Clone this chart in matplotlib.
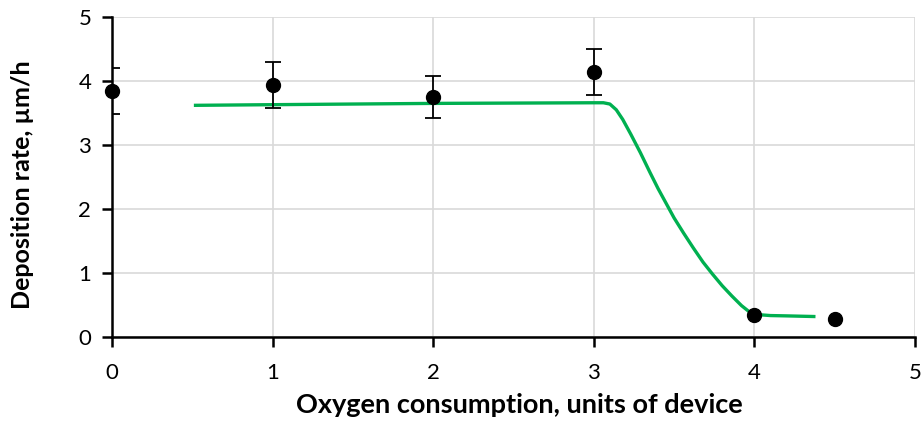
import matplotlib
matplotlib.use('Agg')
import matplotlib.pyplot as plt

# measured points
oxygen = [0, 1, 2, 3, 4, 4.5]
rate = [3.84, 3.94, 3.75, 4.14, 0.34, 0.28]
rateErr = [0.36, 0.36, 0.33, 0.36, 0, 0]

# trend line
trendX = [0.52, 1.0, 2.0, 3.0, 3.06, 3.10, 3.14, 3.18, 3.23, 3.29, 3.35, 3.40,
          3.45, 3.50, 3.56, 3.62, 3.68, 3.74, 3.80, 3.86, 3.92, 3.97, 4.02,
          4.10, 4.2, 4.37]
trendY = [3.62, 3.63, 3.65, 3.66, 3.66, 3.64, 3.55, 3.40, 3.17, 2.88, 2.57, 2.32,
          2.09, 1.86, 1.62, 1.39, 1.17, 0.98, 0.80, 0.64, 0.49, 0.39, 0.35,
          0.335, 0.33, 0.32]

xTicks = [0, 1, 2, 3, 4, 5]
yTicks = [0, 1, 2, 3, 4, 5]

def main():
    plt.rcParams['font.family'] = ['Lato', 'DejaVu Sans']
    fig = plt.figure(figsize=(9.22, 4.45), dpi=100)
    ax = fig.add_axes([0.1215, 0.2427, 0.8709, 0.7191])

    ax.plot(trendX, trendY, color='#00B050', lw=2.4, zorder=3,
            solid_joinstyle='round')

    errX = [x for x, e in zip(oxygen, rateErr) if e > 0]
    errY = [y for y, e in zip(rate, rateErr) if e > 0]
    errV = [e for e in rateErr if e > 0]
    ax.errorbar(errX, errY, yerr=errV, fmt='none', ecolor='black', elinewidth=1.3,
                capsize=6, capthick=1.3, zorder=4)
    ax.plot(oxygen, rate, 'o', color='black', ms=10, zorder=5, clip_on=False)

    ax.set_xlim(0, 5)
    ax.set_ylim(0, 5)
    ax.set_xticks(xTicks)
    ax.set_yticks(yTicks)
    ax.grid(True, color='#d9d9d9', lw=1.2)
    ax.set_axisbelow(True)
    for s in ['top', 'right']:
        ax.spines[s].set_visible(False)
    for s in ['left', 'bottom']:
        ax.spines[s].set_linewidth(1.8)
        ax.spines[s].set_zorder(6)
    ax.tick_params(direction='out', length=7, width=1.8, labelsize=16, pad=8)
    ax.tick_params(axis='x', pad=12)

    fig.text(0.563, 0.09, 'Oxygen consumption, units of device', ha='center',
             va='center', fontsize=19.5, fontweight='bold')
    fig.text(0.024, 0.585, 'Deposition rate, µm/h', ha='center', va='center',
             rotation=90, fontsize=18, fontweight='bold')

    fig.savefig('out.png', dpi=100)

if __name__ == '__main__':
    main()
